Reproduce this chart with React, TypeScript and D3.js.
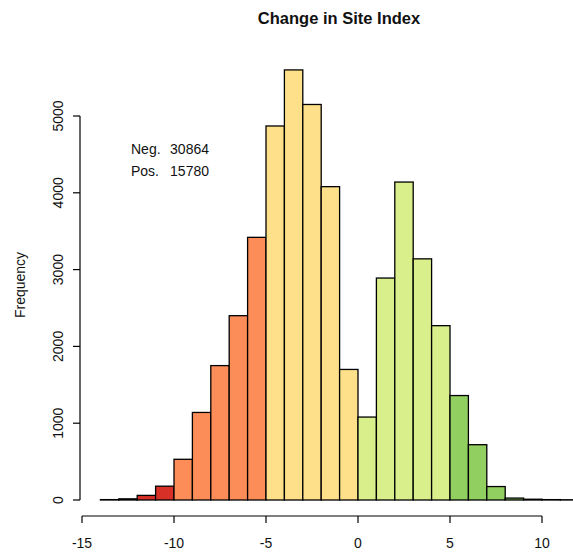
import React from "react";
import * as d3 from "d3";

// histogram of change in site index, bins of width 1
const binStarts = [-14, -13, -12, -11, -10, -9, -8, -7, -6, -5, -4, -3, -2, -1, 0, 1, 2, 3, 4, 5, 6, 7, 8, 9, 10, 11];
const counts = [5, 15, 60, 180, 530, 1140, 1750, 2400, 3420, 4870, 5600, 5150, 4080, 1700, 1080, 2890, 4140, 3140, 2270, 1360, 720, 175, 25, 10, 5, 3];
const colorBreaks = [-10, -5, 0, 5, 10];
const palette = ["#d73027", "#fc8d59", "#fee08b", "#d9ef8b", "#91cf60", "#1a9850"];
const xTicks = [-15, -10, -5, 0, 5, 10];
const yTicks = [0, 1000, 2000, 3000, 4000, 5000];
const summary = [
  { label: "Neg.", value: 30864 },
  { label: "Pos.", value: 15780 },
];

const width = 573;
const height = 554;
const font = "'Liberation Sans', Arial, Helvetica, sans-serif";

const App = () => {
  const x = d3.scaleLinear().domain([-15, 10]).range([82, 542]);
  const y = d3.scaleLinear().domain([0, 5000]).range([500, 116]);
  const color = d3.scaleThreshold<number, string>().domain(colorBreaks).range(palette);

  return (
    <svg
      width={width}
      height={height}
      style={{ position: "absolute", left: 0, top: 0, background: "#fff" }}
      fontFamily={font}
    >
      <text x={339} y={24} textAnchor="middle" fontWeight="bold" fontSize={16.5} fill="#111">
        Change in Site Index
      </text>

      {/* bars */}
      <g stroke="#000" strokeWidth={1.3}>
        {binStarts.map((b, i) => (
          <rect
            key={b}
            x={x(b)}
            y={y(counts[i])}
            width={x(b + 1) - x(b)}
            height={y(0) - y(counts[i])}
            fill={color(b + 0.5)}
          />
        ))}
      </g>

      {/* x axis */}
      <g stroke="#000" strokeWidth={1.2}>
        <line x1={x(-15)} x2={x(10)} y1={516} y2={516} />
        {xTicks.map((t) => (
          <line key={t} x1={x(t)} x2={x(t)} y1={516} y2={523} />
        ))}
      </g>
      {xTicks.map((t) => (
        <text key={t} x={x(t)} y={548} textAnchor="middle" fontSize={14} fill="#111">
          {t}
        </text>
      ))}

      {/* y axis */}
      <g stroke="#000" strokeWidth={1.2}>
        <line x1={80} x2={80} y1={y(0)} y2={y(5000)} />
        {yTicks.map((t) => (
          <line key={t} x1={73} x2={80} y1={y(t)} y2={y(t)} />
        ))}
      </g>
      {yTicks.map((t) => (
        <text
          key={t}
          transform={`translate(63,${y(t)}) rotate(-90)`}
          textAnchor="middle"
          fontSize={14}
          fill="#111"
        >
          {t}
        </text>
      ))}
      <text transform="translate(25,285) rotate(-90)" textAnchor="middle" fontSize={14} fill="#111">
        Frequency
      </text>

      {summary.map((s, i) => (
        <g key={s.label} fontSize={14} fill="#111">
          <text x={131} y={154 + i * 22}>{s.label}</text>
          <text x={209} y={154 + i * 22} textAnchor="end">{s.value}</text>
        </g>
      ))}
    </svg>
  );
};

export default App;
